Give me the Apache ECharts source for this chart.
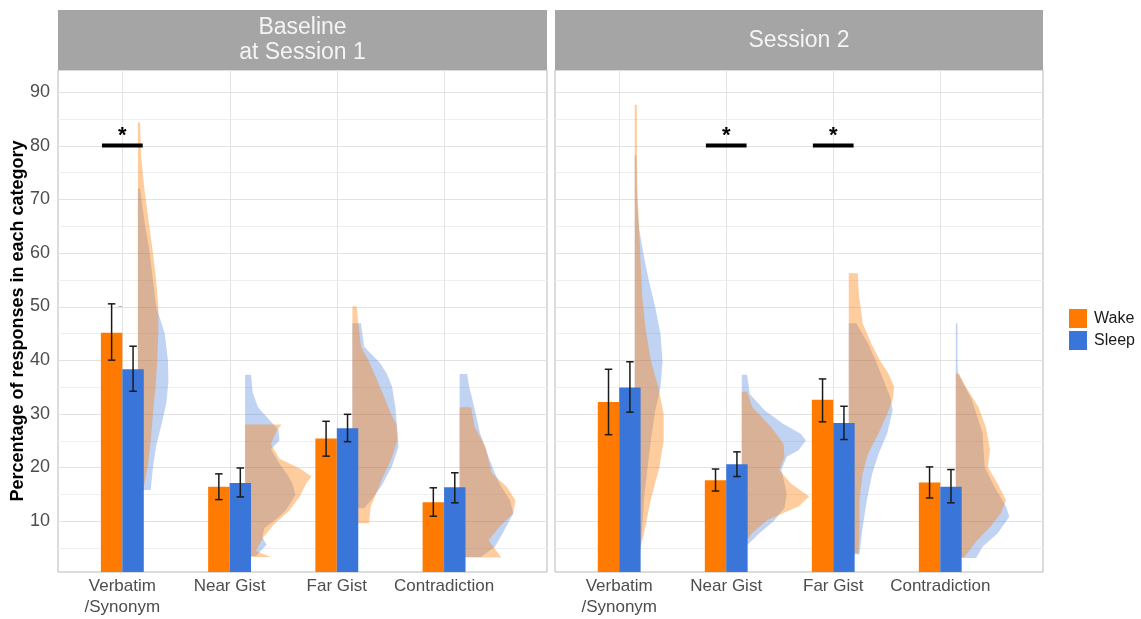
<!DOCTYPE html>
<html>
<head>
<meta charset="utf-8">
<script src="https://cdn.jsdelivr.net/npm/echarts@6/dist/echarts.min.js"></script>
<style>
html, body { margin: 0; padding: 0; background: #ffffff; }
#chart { width: 1141px; height: 619px; }
</style>
</head>
<body>
<div id="chart"></div>
<script>
// ---- data ----
const categories = ['Verbatim\n/Synonym', 'Near Gist', 'Far Gist', 'Contradiction'];
const panelTitles = ['Baseline\nat Session 1', 'Session 2'];
const groups = ['Wake', 'Sleep'];
const yTicks = [10, 20, 30, 40, 50, 60, 70, 80, 90];
const yMinorTicks = [5, 15, 25, 35, 45, 55, 65, 75, 85];

// per category: [mean, lower error, upper error]
const baselineWake  = [[45.1, 40.0, 50.5], [16.4, 14.0, 18.8], [25.4, 22.1, 28.6], [13.5, 10.9, 16.2]];
const baselineSleep = [[38.3, 34.2, 42.6], [17.1, 14.5, 19.9], [27.3, 24.8, 29.9], [16.3, 13.4, 19.0]];
const session2Wake  = [[32.2, 26.1, 38.3], [17.6, 15.6, 19.7], [32.6, 28.5, 36.5], [17.2, 14.3, 20.1]];
const session2Sleep = [[34.9, 30.3, 39.7], [20.6, 18.3, 22.9], [28.3, 25.2, 31.4], [16.4, 13.4, 19.6]];

// categories with a significant Wake/Sleep difference, and the level of the marker
const sigBaseline = [0];
const sigSession2 = [1, 2];
const sigLevel = 80;

// half-violin density profiles per category: [percentage, density width in category units]
const violinBaselineWake = [
  [[15.8, 0.05], [18, 0.07], [20, 0.09], [25, 0.12], [30, 0.14], [35, 0.165], [40, 0.18], [45, 0.19], [50, 0.19], [55, 0.17], [60, 0.14], [66, 0.10], [72, 0.06], [78, 0.03], [84.3, 0.02]],
  [[3.3, 0.24], [4.4, 0.10], [7, 0.17], [9.4, 0.27], [11.9, 0.41], [14.6, 0.51], [17, 0.57], [18.3, 0.62], [19.8, 0.51], [21.6, 0.32], [24.3, 0.24], [26.7, 0.29], [28, 0.34]],
  [[9.6, 0.155], [12.6, 0.17], [15, 0.22], [17.6, 0.27], [21.4, 0.36], [25, 0.42], [28, 0.41], [30, 0.36], [33, 0.30], [36.3, 0.23], [40, 0.15], [42.5, 0.08], [46, 0.06], [50, 0.04]],
  [[3.2, 0.39], [4.8, 0.33], [6.4, 0.27], [8.9, 0.37], [11.4, 0.50], [13.9, 0.52], [16.4, 0.44], [18.9, 0.30], [21.4, 0.27], [23.9, 0.24], [27.6, 0.14], [31.2, 0.107]]
];
const violinBaselineSleep = [
  [[15.8, 0.12], [20, 0.14], [24, 0.17], [28, 0.22], [32, 0.265], [36, 0.285], [40, 0.28], [45, 0.25], [50, 0.17], [55, 0.14], [60, 0.11], [66, 0.06], [72, 0.02]],
  [[3.5, 0.10], [5.6, 0.20], [7, 0.16], [8.7, 0.18], [10.5, 0.30], [12, 0.38], [14.9, 0.47], [17, 0.44], [18.5, 0.40], [21, 0.31], [23.4, 0.24], [25, 0.32], [27, 0.31], [29, 0.22], [31.2, 0.12], [34, 0.07], [37.3, 0.055]],
  [[12.4, 0.11], [14, 0.18], [16.5, 0.27], [20.2, 0.37], [23.9, 0.43], [27, 0.42], [31.4, 0.40], [35.1, 0.37], [37.5, 0.32], [39.4, 0.26], [42.5, 0.11], [46.9, 0.08]],
  [[3.3, 0.20], [5.2, 0.33], [7.7, 0.40], [11.4, 0.50], [13.9, 0.47], [17, 0.37], [21.4, 0.28], [26.4, 0.19], [30, 0.15], [32.6, 0.12], [35, 0.09], [37.4, 0.07]]
];
const violinSession2Wake = [
  [[4, 0.04], [8, 0.09], [14, 0.15], [20, 0.23], [25, 0.27], [30, 0.27], [35, 0.22], [40, 0.15], [46, 0.10], [52, 0.07], [58, 0.055], [64.6, 0.04], [72, 0.025], [80, 0.02], [87.6, 0.02]],
  [[6, 0.03], [7.8, 0.10], [10.2, 0.24], [12.7, 0.53], [14.6, 0.63], [17, 0.46], [19.5, 0.35], [22, 0.40], [24.4, 0.39], [27.4, 0.28], [31.2, 0.10], [34.1, 0.05]],
  [[4, 0.09], [7.7, 0.10], [14, 0.10], [18.9, 0.13], [22.6, 0.18], [26.4, 0.28], [30, 0.36], [32.6, 0.41], [35, 0.425], [37.5, 0.37], [40, 0.29], [43.1, 0.21], [46.9, 0.13], [52.5, 0.093], [56.2, 0.084]],
  [[3.3, 0.08], [6.4, 0.20], [8.9, 0.32], [11.4, 0.42], [13.9, 0.47], [17, 0.39], [20.1, 0.30], [23.3, 0.32], [27.6, 0.28], [31.3, 0.21], [35.5, 0.08], [37.5, 0.03]]
];
const violinSession2Sleep = [
  [[4, 0.05], [8.7, 0.07], [14.8, 0.09], [20, 0.12], [25, 0.15], [30.4, 0.19], [34.8, 0.24], [39.7, 0.26], [45, 0.24], [50, 0.19], [55, 0.13], [60, 0.08], [64.6, 0.04], [70, 0.02], [78.2, 0.015]],
  [[5.5, 0.05], [7.8, 0.17], [10, 0.30], [12.5, 0.40], [15, 0.42], [17, 0.40], [19.5, 0.37], [22, 0.42], [23.2, 0.53], [25, 0.60], [26.3, 0.55], [28.1, 0.39], [30.6, 0.215], [33.7, 0.075], [37.3, 0.05]],
  [[3.8, 0.10], [8.9, 0.13], [14, 0.17], [18.9, 0.22], [22.6, 0.28], [26.4, 0.36], [30.7, 0.41], [33, 0.39], [35, 0.35], [37.5, 0.30], [40, 0.25], [43.1, 0.18], [46.9, 0.07]],
  [[3.1, 0.19], [5.2, 0.25], [7.7, 0.39], [10.8, 0.50], [12.7, 0.47], [16.4, 0.36], [20.1, 0.27], [26.4, 0.25], [32.6, 0.15], [36, 0.06], [37.5, 0.02], [40, 0.015], [46.9, 0.015]]
];

// ---- layout and style ----
const X_MIN = -0.6, X_MAX = 3.96, Y_MIN = 0.5, Y_MAX = 94.1;
const BAR_W = 0.2, VIOLIN_OFFSET = 0.145, CAP = 0.035, SIG_HALF = 0.19;
const WAKE = '#ff7a00', SLEEP = '#3a75d9';
const FONT = '"Liberation Sans", Arial, Helvetica, sans-serif';
const TEXT_GREY = '#4d4d4d';

const panels = [
  { title: panelTitles[0], wake: baselineWake, sleep: baselineSleep, vWake: violinBaselineWake, vSleep: violinBaselineSleep, sig: sigBaseline },
  { title: panelTitles[1], wake: session2Wake, sleep: session2Sleep, vWake: violinSession2Wake, vSleep: violinSession2Sleep, sig: sigSession2 }
];
const gridBoxes = [
  { left: 58, top: 70, width: 489, height: 502 },
  { left: 555, top: 70, width: 488, height: 502 }
];

const chart = echarts.init(document.getElementById('chart'), null, { renderer: 'canvas' });

function gridLineSeries(p) {
  const items = [];
  yMinorTicks.forEach(v => items.push([0, v]));
  yTicks.forEach(v => items.push([1, v]));
  categories.forEach((c, i) => items.push([2, i]));
  return {
    type: 'custom', xAxisIndex: p, yAxisIndex: p, silent: true, z: 1,
    data: items,
    renderItem(params, api) {
      const cs = params.coordSys;
      const kind = api.value(0), v = api.value(1);
      if (kind === 2) {
        const x = Math.round(api.coord([v, Y_MIN])[0]) + 0.5;
        return { type: 'line', shape: { x1: x, y1: cs.y, x2: x, y2: cs.y + cs.height }, style: { stroke: '#e4e4e4', lineWidth: 1 } };
      }
      const y = Math.round(api.coord([X_MIN, v])[1]) + 0.5;
      return {
        type: 'line', shape: { x1: cs.x, y1: y, x2: cs.x + cs.width, y2: y },
        style: { stroke: kind === 1 ? '#e2e2e2' : '#efefef', lineWidth: 1 }
      };
    }
  };
}

function violinSeries(p, profiles, color, opacity, name, z) {
  return {
    type: 'custom', name: name, xAxisIndex: p, yAxisIndex: p, silent: true, z: z,
    data: profiles.map((prof, i) => [i]),
    renderItem(params, api) {
      const c = api.value(0);
      const prof = profiles[c];
      const x0 = c + VIOLIN_OFFSET;
      const pts = [api.coord([x0, prof[0][0]])];
      prof.forEach(([v, w]) => pts.push(api.coord([x0 + w, v])));
      pts.push(api.coord([x0, prof[prof.length - 1][0]]));
      return { type: 'polygon', shape: { points: pts }, style: { fill: color, opacity: opacity } };
    }
  };
}

function barSeries(p, rows, color, name, side) {
  return {
    type: 'custom', name: name, xAxisIndex: p, yAxisIndex: p, z: 5,
    itemStyle: { color: color },
    data: rows.map((r, i) => [i, r[0], r[1], r[2]]),
    renderItem(params, api) {
      const c = api.value(0), mean = api.value(1), lo = api.value(2), hi = api.value(3);
      const xl = side < 0 ? c - BAR_W : c;
      const xr = xl + BAR_W;
      const xm = (xl + xr) / 2;
      const tl = api.coord([xl, mean]);
      const br = api.coord([xr, Y_MIN]);
      const pLo = api.coord([xm, lo]), pHi = api.coord([xm, hi]);
      const capL = api.coord([xm - CAP, lo])[0], capR = api.coord([xm + CAP, lo])[0];
      const err = { stroke: '#1a1a1a', lineWidth: 1.5 };
      return {
        type: 'group',
        children: [
          { type: 'rect', shape: { x: tl[0], y: tl[1], width: br[0] - tl[0], height: br[1] - tl[1] }, style: { fill: color } },
          { type: 'line', shape: { x1: pLo[0], y1: pLo[1], x2: pHi[0], y2: pHi[1] }, style: err },
          { type: 'line', shape: { x1: capL, y1: pLo[1], x2: capR, y2: pLo[1] }, style: err },
          { type: 'line', shape: { x1: capL, y1: pHi[1], x2: capR, y2: pHi[1] }, style: err }
        ]
      };
    }
  };
}

function sigSeries(p, cats) {
  return {
    type: 'custom', xAxisIndex: p, yAxisIndex: p, silent: true, z: 6,
    data: cats.map(c => [c, sigLevel]),
    renderItem(params, api) {
      const c = api.value(0), lvl = api.value(1);
      const a = api.coord([c - SIG_HALF, lvl]), b = api.coord([c + SIG_HALF, lvl]);
      const mid = api.coord([c, lvl]);
      return {
        type: 'group',
        children: [
          { type: 'line', shape: { x1: a[0], y1: a[1], x2: b[0], y2: b[1] }, style: { stroke: '#000', lineWidth: 4 } },
          { type: 'text', x: mid[0], y: mid[1] + 1, style: { text: '*', fill: '#000', fontSize: 22, fontWeight: 'bold', fontFamily: FONT, align: 'center', verticalAlign: 'bottom' } }
        ]
      };
    }
  };
}

const grids = gridBoxes.map(g => Object.assign({ show: true, backgroundColor: '#ffffff', borderColor: '#b8b8b8', borderWidth: 1 }, g));

const xAxes = panels.map((pn, p) => ({
  type: 'value', gridIndex: p, min: X_MIN, max: X_MAX,
  axisLine: { show: false }, axisTick: { show: false }, splitLine: { show: false },
  axisLabel: {
    customValues: [0, 1, 2, 3],
    formatter: v => categories[Math.round(v)],
    color: TEXT_GREY, fontSize: 17, lineHeight: 21, margin: 4, fontFamily: FONT
  }
}));

const yAxes = panels.map((pn, p) => ({
  type: 'value', gridIndex: p, min: Y_MIN, max: Y_MAX,
  axisLine: { show: false }, splitLine: { show: false },
  axisTick: { show: p === 0, customValues: yTicks, length: 4, lineStyle: { color: '#b3b3b3' } },
  axisLabel: { show: p === 0, customValues: yTicks, color: TEXT_GREY, fontSize: 18, margin: 8, fontFamily: FONT }
}));

const series = [];
panels.forEach((pn, p) => {
  series.push(gridLineSeries(p));
  series.push(violinSeries(p, pn.vSleep, SLEEP, 0.32, 'Sleep density', 2));
  series.push(violinSeries(p, pn.vWake, WAKE, 0.38, 'Wake density', 3));
  series.push(barSeries(p, pn.wake, WAKE, groups[0], -1));
  series.push(barSeries(p, pn.sleep, SLEEP, groups[1], 1));
  series.push(sigSeries(p, pn.sig));
});

const graphics = [];
gridBoxes.forEach((g, p) => {
  graphics.push({ type: 'rect', shape: { x: g.left, y: 10, width: g.width, height: 60 }, style: { fill: '#a5a5a5' }, silent: true });
  graphics.push({
    type: 'text', x: g.left + g.width / 2, y: 40.5, silent: true,
    style: { text: panels[p].title, fill: '#f4f4f4', fontSize: 23, lineHeight: 25, fontFamily: FONT, align: 'center', verticalAlign: 'middle' }
  });
});
graphics.push({
  type: 'text', x: 18, y: 321, rotation: Math.PI / 2, silent: true,
  style: { text: 'Percentage of responses in each category', fill: '#000', fontSize: 18, fontWeight: 'bold', fontFamily: FONT, align: 'center', verticalAlign: 'middle' }
});

chart.setOption({
  animation: false,
  backgroundColor: '#ffffff',
  grid: grids,
  xAxis: xAxes,
  yAxis: yAxes,
  legend: {
    data: groups, orient: 'vertical', left: 1064, top: 304,
    icon: 'rect', itemWidth: 18, itemHeight: 19, itemGap: 3, selectedMode: false,
    textStyle: { fontSize: 16, color: '#1a1a1a', fontFamily: FONT, padding: [0, 0, 0, 2] }
  },
  graphic: graphics,
  series: series
});
</script>
</body>
</html>
